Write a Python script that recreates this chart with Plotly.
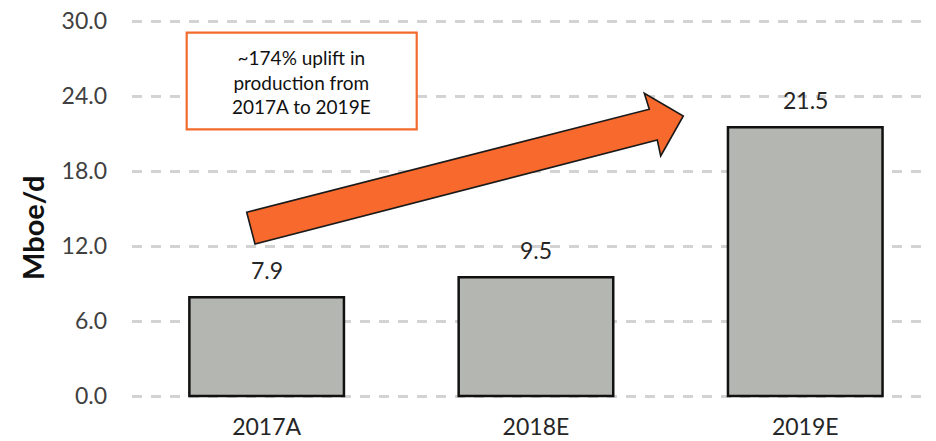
import plotly.graph_objects as go

# ---- data ----
categories = ["2017A", "2018E", "2019E"]
production = [7.9, 9.5, 21.5]
y_ticks = [0, 6, 12, 18, 24, 30]
y_tick_labels = ["0.0", "6.0", "12.0", "18.0", "24.0", "30.0"]
callout_lines = ["~174% uplift in", "production from", "2017A to 2019E"]
y_title = "Mboe/d"

OFF = 8  # page body margin
PAD_Y = 0.16  # extra y-range so edge gridlines are not clipped
W, H = 936 - OFF, 441 - OFF
L, R, T, B = 132 - OFF, 0, 21 - OFF - 2, 45 - 2
PW, PH = W - L - R, H - T - B


def px(x, y):
    """window pixel position -> paper coords (decoration only)"""
    x -= OFF
    y -= OFF
    return (x - L) / PW, (H - B - y) / PH


fig = go.Figure()
fig.add_trace(go.Bar(
    x=categories, y=production,
    marker=dict(color="#b4b6b1", line=dict(color="#111111", width=2.5)),
    width=0.574, hoverinfo="skip",
))

# value labels above bars
for c, v in zip(categories, production):
    fig.add_annotation(x=c, y=v, text=f"{v:.1f}", showarrow=False,
                       yanchor="middle", yshift=27,
                       font=dict(family="Lato", size=23, color="#262626"))

# callout box
x0, y0 = px(186.7, 129.3)
x1, y1 = px(416.7, 32.7)
fig.add_shape(type="rect", xref="paper", yref="paper", x0=x0, y0=y0, x1=x1, y1=y1,
              line=dict(color="#f26b2d", width=2.2), fillcolor="white", layer="above")
cx, cy = px(301.7, 82)
fig.add_annotation(xref="paper", yref="paper", x=cx, y=cy, showarrow=False,
                   text="<br>".join(callout_lines), align="center",
                   xanchor="center", yanchor="middle",
                   font=dict(family="Lato", size=19, color="#111111"))

# block arrow (decoration)
pts = [(246.7, 212.3), (649.3, 109.3), (644.3, 93.3), (683.3, 116),
       (660.7, 156), (657.3, 140), (255, 244)]
path = "M " + " L ".join(f"{px(a, b)[0]:.5f},{px(a, b)[1]:.5f}" for a, b in pts) + " Z"
fig.add_shape(type="path", xref="paper", yref="paper", path=path,
              fillcolor="#f7692c", line=dict(color="#1a1a1a", width=1.6), layer="above")

# y-axis title
tx, ty = px(32, 228)
fig.add_annotation(xref="paper", yref="paper", x=tx, y=ty, text=f"<b>{y_title}</b>",
                   showarrow=False, textangle=-90, xanchor="center", yanchor="middle",
                   font=dict(family="Lato", size=29, color="#111111"))

fig.update_layout(
    width=W, height=H,
    margin=dict(l=L, r=R, t=T, b=B, pad=0),
    paper_bgcolor="white", plot_bgcolor="white",
    showlegend=False,
    xaxis=dict(range=[-0.5, -0.5 + PW / 269.3], showgrid=False, zeroline=False,
               showline=False, ticks="", ticklabelstandoff=13, automargin=False,
               ticklabeloverflow="allow",
               tickfont=dict(family="Lato", size=23, color="#262626")),
    yaxis=dict(range=[-PAD_Y, 30 + PAD_Y], tickvals=y_ticks, ticktext=y_tick_labels,
               showgrid=True, gridcolor="#d3d3d3", gridwidth=2.5, griddash="10px,9px",
               zeroline=False, showline=False, ticks="", ticklabelstandoff=24,
               automargin=False, ticklabeloverflow="allow",
               tickfont=dict(family="Lato", size=23, color="#404040")),
)

fig.write_html("out.html")
